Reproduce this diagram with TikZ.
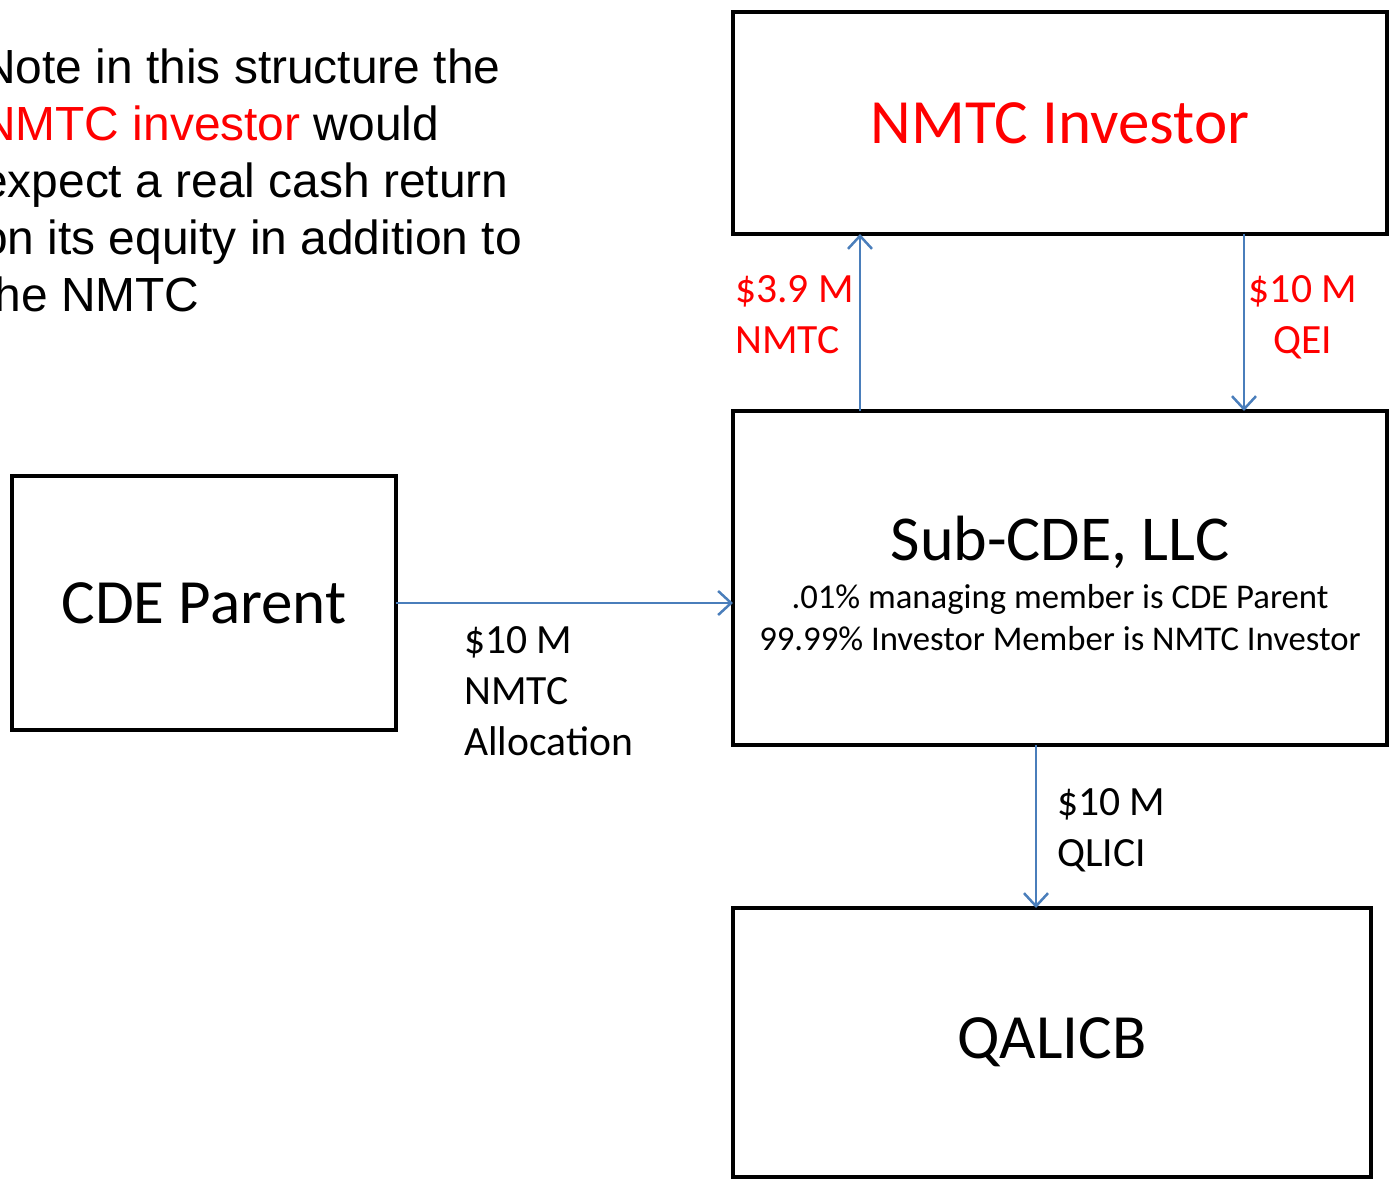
\documentclass[tikz,border=0pt]{standalone}
\usepackage{fontspec}
\setmainfont{Carlito}
\newfontfamily\notefont{Liberation Sans}
\usetikzlibrary{arrows.meta}
\definecolor{flowblue}{HTML}{4A7EBB}
\definecolor{hotred}{HTML}{FF0000}
\newcommand{\stackl}[1]{\begin{tabular}[t]{@{}l@{}}#1\end{tabular}}
\newcommand{\stackc}[1]{\begin{tabular}[t]{@{}c@{}}#1\end{tabular}}
\begin{document}
\begin{tikzpicture}[x=1pt,y=-1pt,
  box/.style={draw=black, line width=4.6pt, rectangle, inner sep=0pt, outer sep=0pt,
    font=\fontsize{63}{75}\selectfont},
  flow/.style={draw=flowblue, line width=2.5pt,
    -{Straight Barb[length=13pt,width=24pt]}},
  lbl/.style={inner sep=0pt, anchor=base west, font=\fontsize{41.6}{51}\selectfont},
  small/.style={inner sep=0pt, anchor=base, font=\fontsize{34.7}{42}\selectfont}]
\useasboundingbox (0,0) rectangle (1393,1181);
\clip (0,0) rectangle (1393,1181);

% note
\node[inner sep=0pt, anchor=base west, font=\notefont\fontsize{47.9}{57.2}\selectfont] (note) at (-19,83)
  {\stackl{Note in this structure the\\ \textcolor{hotred}{NMTC investor} would\\ expect a real cash return\\ on its equity in addition to\\ the NMTC}};

% boxes
\node[box, minimum width=654pt, minimum height=222pt, text=hotred] (inv) at (1060,123) {NMTC Investor};
\node[box, minimum width=654pt, minimum height=334pt] (sub) at (1060,578) {};
\node[box, minimum width=384pt, minimum height=254pt] (par) at (204,603) {CDE Parent};
\node[box, minimum width=638pt, minimum height=269pt] (qal) at (1052,1042.5) {QALICB};

\node[inner sep=0pt, anchor=base, font=\fontsize{64}{76}\selectfont] (subtitle) at (1060,560) {Sub-CDE, LLC};
\node[small] (subline1) at (1060,608) {.01\% managing member is CDE Parent};
\node[small] (subline2) at (1060,650) {99.99\% Investor Member is NMTC Investor};

% connector x/y positions
\coordinate (ux) at (860,0);
\coordinate (dx) at (1244,0);
\coordinate (qx) at (1036,0);
\coordinate (hy) at (0,603);

\draw[flow] (sub.north -| ux) -- (inv.south -| ux);
\draw[flow] (inv.south -| dx) -- (sub.north -| dx);
\draw[flow] (par.east |- hy) -- (sub.west |- hy);
\draw[flow] (sub.south -| qx) -- (qal.north -| qx);

% labels
\node[lbl, text=hotred] (lblnmtc) at (735,302) {\stackl{\$3.9 M\\ NMTC}};
\node[lbl, anchor=base, text=hotred] (lblqei) at (1303,302) {\stackc{\$10 M\\ QEI}};
\node[lbl] (lblalloc) at (464,653) {\stackl{\$10 M\\ NMTC\\ Allocation}};
\node[lbl] (lblqlici) at (1057,815) {\stackl{\$10 M\\ QLICI}};
\end{tikzpicture}
\end{document}
